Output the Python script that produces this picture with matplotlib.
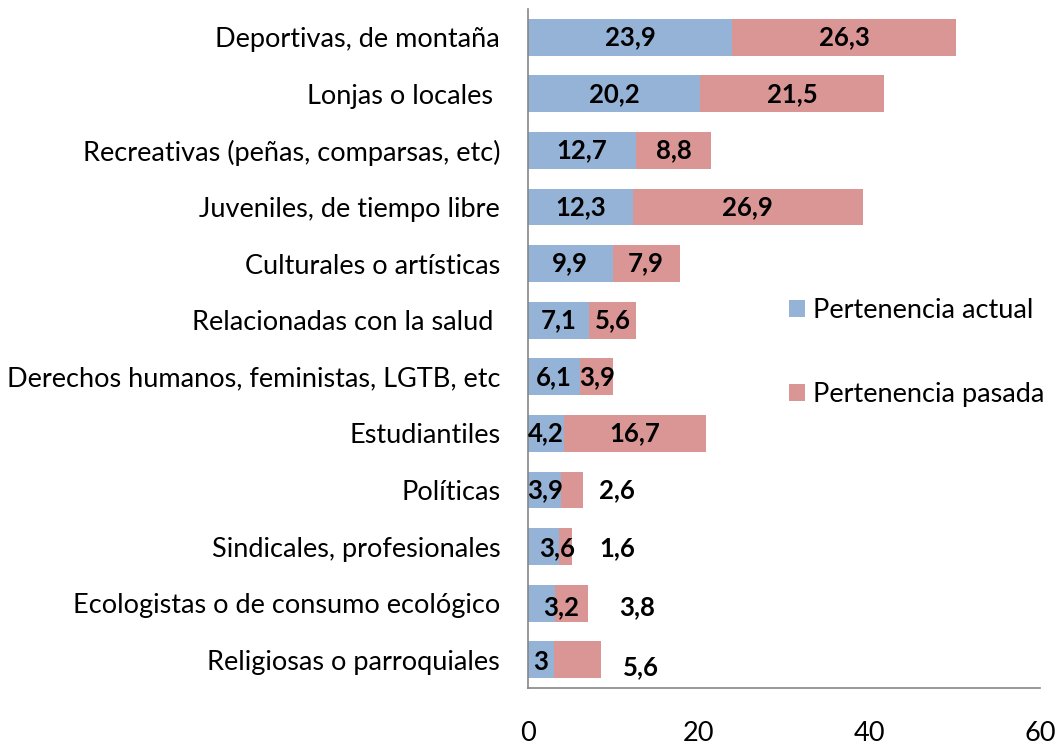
import matplotlib
matplotlib.use('Agg')
import matplotlib.pyplot as plt
import numpy as np

# data, top to bottom as shown
categories = ['Deportivas, de montaña', 'Lonjas o locales ', 'Recreativas (peñas, comparsas, etc)',
              'Juveniles, de tiempo libre', 'Culturales o artísticas', 'Relacionadas con la salud ',
              'Derechos humanos, feministas, LGTB, etc', 'Estudiantiles', 'Políticas',
              'Sindicales, profesionales', 'Ecologistas o de consumo ecológico', 'Religiosas o parroquiales']
actual = [23.9, 20.2, 12.7, 12.3, 9.9, 7.1, 6.1, 4.2, 3.9, 3.6, 3.2, 3.0]
pasada = [26.3, 21.5, 8.8, 26.9, 7.9, 5.6, 3.9, 16.7, 2.6, 1.6, 3.8, 5.6]

# label nudges (points) where the original places the labels off-center
actual_nudge = [(0, 0)] * 9 + [(10, -1.5), (14, -3), (0, -1.5)]
pasada_nudge = [(0, 0)] * 8 + [(32, 0), (37, -1.5), (47, -3), (46, -5)]

blue = '#95B3D7'
red = '#D99694'
plt.rcParams['font.family'] = ['Lato', 'DejaVu Sans']

fig = plt.figure(figsize=(10.59, 7.45), dpi=100)
ax = fig.add_axes([0.4986, 0.0765, 0.4835, 0.9115])

y = np.arange(len(categories))
ax.barh(y, actual, height=0.65, color=blue, label='Pertenencia actual')
ax.barh(y, pasada, left=actual, height=0.65, color=red, label='Pertenencia pasada')

def fmt(v):
    s = f'{v:.1f}'.replace('.', ',')
    return s[:-2] if s.endswith(',0') else s

for i in range(len(categories)):
    ax.annotate(fmt(actual[i]), (actual[i] / 2, y[i]), xytext=actual_nudge[i],
                textcoords='offset points', ha='center', va='center',
                fontsize=18.5, fontweight='bold')
    ax.annotate(fmt(pasada[i]), (actual[i] + pasada[i] / 2, y[i]), xytext=pasada_nudge[i],
                textcoords='offset points', ha='center', va='center',
                fontsize=18.5, fontweight='bold')

ax.set_xlim(0, 60)
ax.set_ylim(len(categories) - 0.5, -0.5)
ax.set_xticks([0, 20, 40, 60])
ax.set_yticks(y)
ax.set_yticklabels(categories)
ax.tick_params(axis='both', length=0, labelsize=19.5)
ax.tick_params(axis='x', pad=24)
ax.tick_params(axis='y', pad=20)
for s in ['top', 'right']:
    ax.spines[s].set_visible(False)
for s in ['left', 'bottom']:
    ax.spines[s].set_color('#868686')
    ax.spines[s].set_linewidth(1.2)

ax.legend(loc='center left', bbox_to_anchor=(0.462, 0.494), frameon=False, fontsize=19.5,
          handlelength=0.6, handleheight=0.6, handletextpad=0.3, labelspacing=2.2)

fig.savefig('out.png', dpi=100)
